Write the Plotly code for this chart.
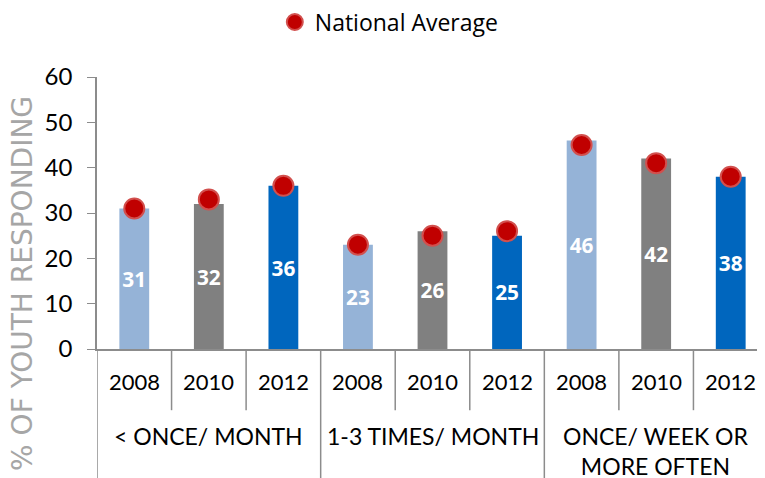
import plotly.graph_objects as go

groups = ["< ONCE/ MONTH", "1-3 TIMES/ MONTH", "ONCE/ WEEK OR<br>MORE OFTEN"]
years = ["2008", "2010", "2012"]
youth_pct = [31, 32, 36, 23, 26, 25, 46, 42, 38]
national_avg = [31, 33, 36, 23, 25, 26, 45, 41, 38]
year_colors = {"2008": "#95B3D7", "2010": "#808080", "2012": "#0066BE"}

x_outer = [g for g in groups for _ in years]
x_inner = [y for _ in groups for y in years]
bar_colors = [year_colors[y] for y in x_inner]

fig = go.Figure()

fig.add_trace(
    go.Bar(
        x=[x_outer, x_inner],
        y=youth_pct,
        marker=dict(color=bar_colors, line=dict(width=0)),
        width=0.4,
        text=[str(v) for v in youth_pct],
        textposition="inside",
        insidetextanchor="middle",
        textangle=0,
        textfont=dict(family="Open Sans", size=23, color="white", weight="bold"),
        showlegend=False,
        hoverinfo="skip",
    )
)

fig.add_trace(
    go.Scatter(
        x=[x_outer, x_inner],
        y=national_avg,
        mode="markers",
        marker=dict(color="#C00000", size=20, line=dict(color="#D2504E", width=2)),
        name="National Average",
    )
)

# ── category labels under the axis (years row, then groups row) ─────────────
n = len(x_inner)
for i, yr in enumerate(x_inner):
    fig.add_annotation(
        text=yr, xref="x", yref="paper", x=i, y=-0.121,
        xanchor="center", yanchor="middle", showarrow=False,
        font=dict(family="Lato", size=22, color="black"),
    )
for j, grp in enumerate(groups):
    fig.add_annotation(
        text=grp, xref="x", yref="paper", x=j * len(years) + 1, y=-0.262,
        xanchor="center", yanchor="top", showarrow=False,
        font=dict(family="Lato", size=23, color="black"),
    )

# divider lines below the axis: short ones between years, long ones between groups
for i in range(n + 1):
    long_line = i % len(years) == 0
    fig.add_shape(
        type="line", xref="x", yref="paper",
        x0=i - 0.5, x1=i - 0.5, y0=0, y1=-0.5 if long_line else -0.225,
        line=dict(color="#8C8C8C", width=1.5),
    )

fig.add_annotation(
    text="% OF YOUTH RESPONDING",
    xref="paper", yref="paper", x=-0.110, y=0.24,
    xanchor="center", yanchor="middle",
    textangle=-90, showarrow=False,
    font=dict(family="DejaVu Sans", size=28, color="#A6A6A6"),
)

# the page adds an 8px body margin, so margins are trimmed by 8px to compensate
fig.update_layout(
    width=765,
    height=478,
    plot_bgcolor="white",
    paper_bgcolor="white",
    margin=dict(l=89, r=5, t=69, b=137, autoexpand=False),
    legend=dict(
        orientation="h",
        x=0.265,
        xanchor="left",
        y=1.202,
        yanchor="middle",
        font=dict(family="Open Sans", size=23, color="black"),
    ),
)

fig.update_xaxes(
    type="multicategory",
    range=[-0.5, n - 0.5],
    showline=True,
    linecolor="#8C8C8C",
    linewidth=1.5,
    showdividers=False,
    showticklabels=False,
    ticks="",
    automargin=False,
)

fig.update_yaxes(
    range=[0, 60],
    dtick=10,
    showgrid=False,
    zeroline=False,
    showline=True,
    linecolor="#8C8C8C",
    linewidth=1.5,
    ticks="outside",
    ticklen=8,
    tickcolor="#8C8C8C",
    ticklabelstandoff=10,
    tickfont=dict(family="Lato", size=24, color="black"),
    automargin=False,
)

fig.write_html("out.html")
